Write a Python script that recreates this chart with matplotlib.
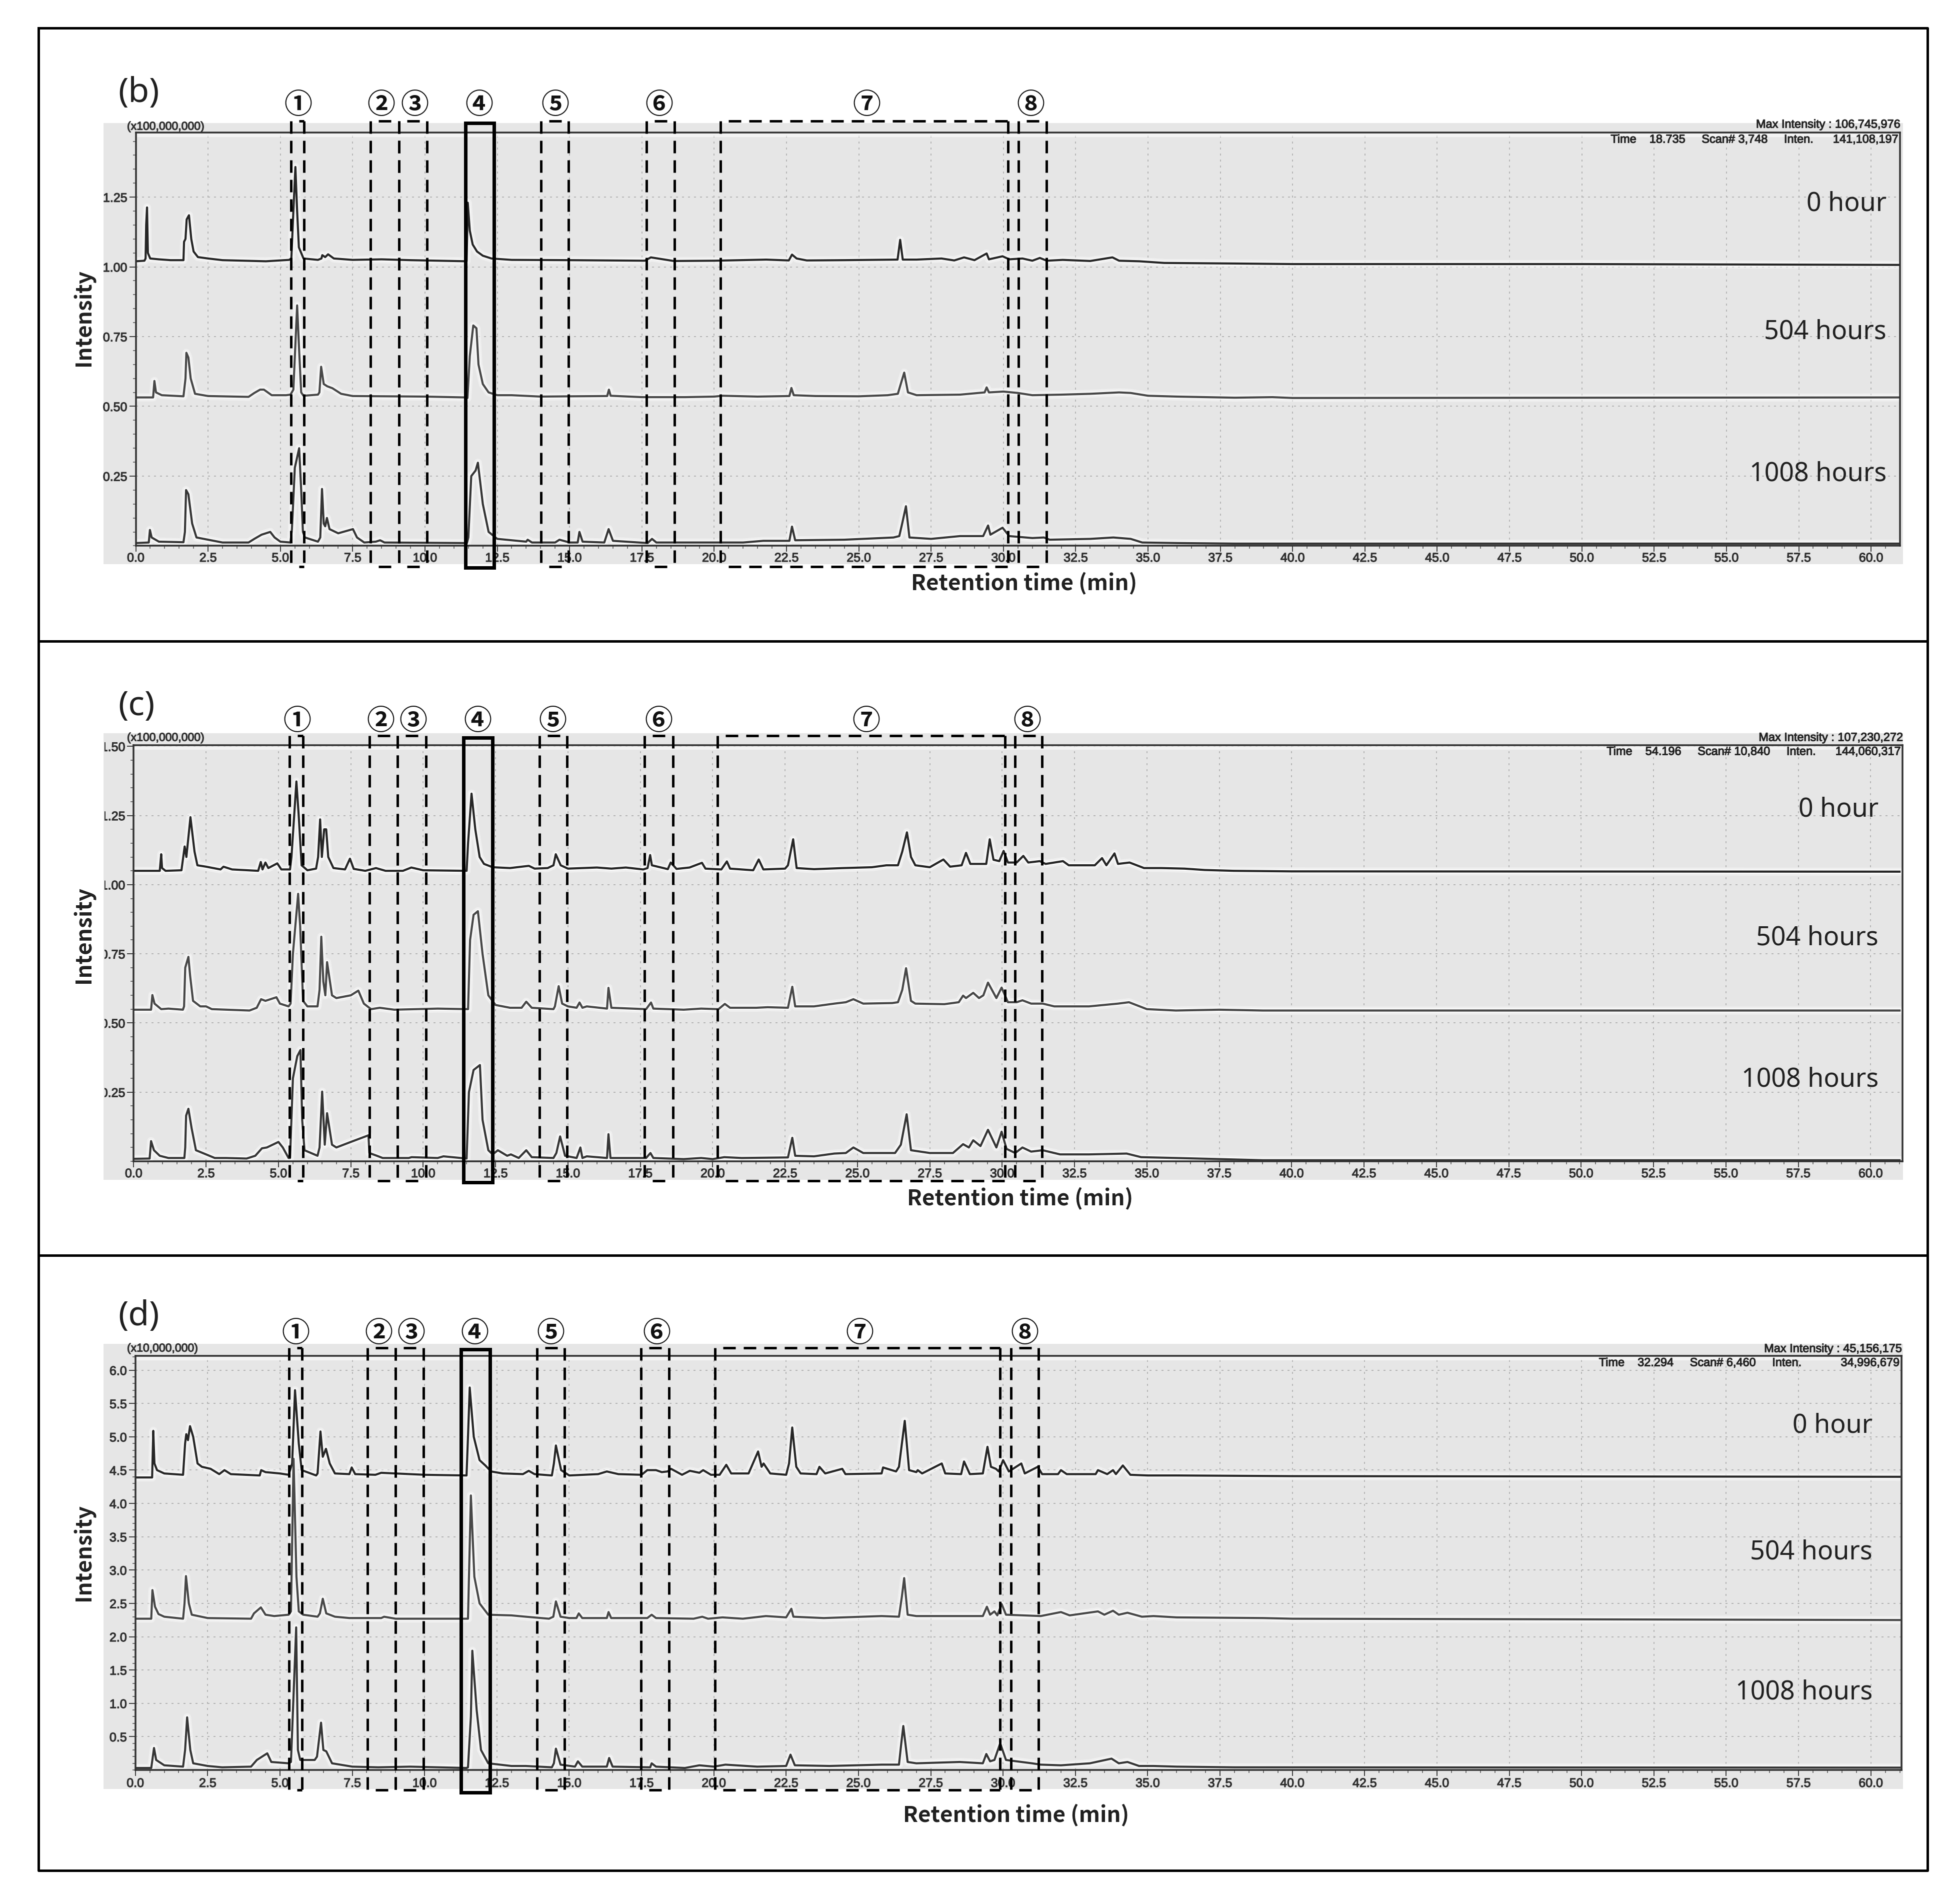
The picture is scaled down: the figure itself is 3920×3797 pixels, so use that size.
import numpy as np
import matplotlib
matplotlib.use('Agg')
import matplotlib.pyplot as plt
import matplotlib.patheffects as pe
from matplotlib.transforms import Bbox, blended_transform_factory

W, H = 3920, 3797
DPI = 100
PX = 72.0 / DPI  # one pixel in points
plt.rcParams['lines.scale_dashes'] = False

# traced chromatograms: (retention time in min, intensity in axis units)
B_0H = [(0,1.02),(.30,1.022),(.34,1.03),(.36,1.15),(.39,1.213),(.42,1.05),(.5,1.03),(.8,1.027),(1.2,1.024),(1.65,1.024),(1.67,1.09),(1.72,1.10),(1.76,1.17),(1.84,1.185),(1.92,1.10),(2.0,1.055),(2.15,1.035),(2.5,1.03),(3,1.024),(4.5,1.02),(5.3,1.025),(5.38,1.03),(5.45,1.2),(5.52,1.358),(5.58,1.2),(5.64,1.07),(5.8,1.03),(6.3,1.025),(6.42,1.03),(6.45,1.042),(6.55,1.035),(6.65,1.045),(6.85,1.03),(7.5,1.025),(8.5,1.027),(9.5,1.024),(11.44,1.02),(11.48,1.23),(11.55,1.13),(11.65,1.08),(11.8,1.055),(12,1.04),(12.3,1.03),(13,1.025),(15,1.024),(17.6,1.022),(17.81,1.034),(18.6,1.021),(20,1.022),(21.8,1.026),(22.58,1.023),(22.69,1.044),(22.85,1.03),(23.2,1.023),(24.5,1.024),(26.34,1.026),(26.43,1.097),(26.52,1.026),(27,1.026),(27.86,1.03),(28.3,1.023),(28.64,1.034),(29,1.024),(29.42,1.048),(29.5,1.027),(29.97,1.038),(30.2,1.027),(30.66,1.03),(31,1.022),(31.26,1.032),(31.5,1.022),(32.05,1.025),(33,1.021),(33.77,1.034),(34,1.022),(34.7,1.02),(35.56,1.014),(38,1.012),(40,1.01),(50,1.01),(61,1.007)]
B_504H = [(0,.532),(.6,.532),(.645,.591),(.7,.55),(.9,.54),(1.65,.536),(1.72,.6),(1.75,.692),(1.82,.675),(1.9,.6),(2.05,.545),(2.5,.537),(3.9,.534),(4.1,.548),(4.3,.56),(4.43,.56),(4.7,.54),(5.2,.54),(5.35,.542),(5.45,.56),(5.58,.862),(5.65,.7),(5.72,.55),(5.8,.538),(6.3,.542),(6.35,.55),(6.41,.642),(6.5,.58),(6.62,.572),(6.8,.565),(7.1,.545),(7.5,.537),(10,.535),(11.4,.532),(11.47,.53),(11.55,.68),(11.67,.79),(11.78,.78),(11.85,.65),(12,.58),(12.2,.55),(12.5,.54),(13,.54),(14,.535),(15,.536),(16.3,.537),(16.36,.56),(16.42,.538),(17.5,.533),(19,.533),(20,.535),(20.3,.538),(21.5,.535),(22.6,.537),(22.67,.566),(22.75,.54),(23.5,.537),(25,.536),(26,.54),(26.35,.545),(26.45,.58),(26.57,.621),(26.7,.55),(27,.54),(28.5,.542),(29.35,.55),(29.42,.568),(29.5,.55),(30,.553),(30.5,.548),(31,.54),(32,.542),(33,.545),(34,.55),(34.4,.548),(35,.538),(36,.535),(38,.531),(39.3,.533),(40,.53),(61,.532)]
B_1008H = [(0,.01),(.45,.012),(.49,.057),(.55,.03),(.8,.015),(1.65,.013),(1.7,.05),(1.74,.2),(1.82,.185),(1.95,.08),(2.1,.03),(2.5,.022),(3,.012),(3.9,.012),(4.1,.025),(4.35,.04),(4.65,.05),(4.8,.03),(5,.015),(5.35,.012),(5.4,.06),(5.5,.28),(5.65,.35),(5.72,.2),(5.78,.05),(5.85,.03),(6.3,.015),(6.38,.03),(6.44,.204),(6.5,.08),(6.55,.07),(6.61,.1),(6.7,.06),(7,.045),(7.51,.06),(7.65,.03),(7.9,.012),(8.3,.015),(8.45,.02),(8.6,.012),(11.45,.01),(11.5,.03),(11.6,.25),(11.75,.27),(11.83,.298),(12,.15),(12.2,.05),(12.5,.025),(13,.02),(13.5,.015),(13.55,.022),(13.7,.012),(14.5,.012),(14.65,.022),(15,.012),(15.28,.012),(15.34,.05),(15.45,.015),(16.2,.012),(16.35,.06),(16.5,.018),(17.7,.01),(17.85,.025),(18,.012),(20,.012),(21,.012),(21.7,.018),(22.6,.018),(22.69,.069),(22.8,.02),(24.5,.022),(26.2,.03),(26.4,.035),(26.5,.08),(26.63,.142),(26.75,.03),(27.5,.025),(28.5,.035),(29.3,.035),(29.47,.073),(29.55,.04),(29.97,.065),(30.2,.035),(31,.028),(31.4,.03),(31.6,.022),(33,.025),(33.8,.03),(34.4,.025),(34.8,.012),(36,.01),(38,.008),(40,.008),(61,.008)]

C_0H = [(0,1.05),(.9,1.05),(.95,1.11),(.98,1.06),(1.1,1.05),(1.65,1.052),(1.76,1.138),(1.82,1.1),(1.96,1.244),(2.1,1.12),(2.2,1.07),(2.5,1.065),(3,1.055),(3.1,1.065),(3.4,1.055),(4.3,1.05),(4.39,1.082),(4.45,1.055),(4.55,1.08),(4.65,1.06),(4.96,1.077),(5.1,1.055),(5.4,1.055),(5.45,1.1),(5.62,1.373),(5.7,1.25),(5.8,1.07),(6,1.052),(6.3,1.058),(6.37,1.1),(6.44,1.236),(6.5,1.1),(6.58,1.2),(6.65,1.2),(6.72,1.1),(6.9,1.06),(7.3,1.055),(7.47,1.094),(7.6,1.057),(8,1.05),(8.37,1.06),(8.7,1.05),(9.3,1.05),(9.59,1.062),(10,1.052),(11.5,1.05),(11.55,1.15),(11.67,1.329),(11.8,1.2),(11.95,1.1),(12.1,1.075),(12.4,1.063),(13,1.06),(13.4,1.065),(13.65,1.068),(13.85,1.058),(14.3,1.06),(14.5,1.07),(14.58,1.11),(14.75,1.07),(15,1.058),(15.5,1.06),(16,1.062),(16.5,1.058),(17,1.062),(17.6,1.055),(17.75,1.06),(17.84,1.107),(17.9,1.07),(18.3,1.06),(18.45,1.056),(18.55,1.08),(18.75,1.057),(19.2,1.062),(19.63,1.079),(19.75,1.058),(20.3,1.055),(20.49,1.084),(20.6,1.058),(21.4,1.052),(21.59,1.091),(21.75,1.055),(22.5,1.058),(22.6,1.07),(22.78,1.164),(22.9,1.06),(23.5,1.056),(24.5,1.06),(25.5,1.063),(26,1.07),(26.4,1.07),(26.55,1.12),(26.71,1.189),(26.85,1.1),(27,1.07),(27.5,1.063),(27.97,1.091),(28.2,1.065),(28.6,1.07),(28.75,1.115),(28.9,1.075),(29.45,1.075),(29.57,1.164),(29.7,1.09),(29.9,1.085),(30.05,1.122),(30.2,1.08),(30.5,1.08),(30.73,1.104),(30.9,1.08),(31.3,1.085),(31.5,1.075),(32.1,1.085),(32.3,1.07),(33.2,1.07),(33.45,1.096),(33.6,1.07),(33.88,1.113),(34,1.075),(34.4,1.08),(34.9,1.06),(35.5,1.06),(36.3,1.058),(37,1.053),(38,1.05),(40,1.048),(61,1.047)]
C_504H = [(0,.548),(.6,.548),(.645,.601),(.72,.57),(.95,.55),(1.2,.552),(1.7,.548),(1.74,.56),(1.78,.7),(1.89,.739),(1.95,.67),(2.05,.58),(2.3,.56),(2.5,.56),(2.7,.55),(4,.545),(4.25,.555),(4.4,.586),(4.55,.58),(4.93,.593),(5.05,.57),(5.35,.56),(5.42,.57),(5.5,.75),(5.68,.967),(5.75,.85),(5.85,.58),(6,.56),(6.35,.56),(6.42,.62),(6.48,.812),(6.55,.65),(6.62,.6),(6.68,.72),(6.85,.6),(7,.59),(7.5,.6),(7.76,.617),(7.95,.57),(8.2,.55),(8.5,.555),(9,.548),(10.5,.552),(11.55,.55),(11.62,.8),(11.74,.891),(11.89,.904),(12.05,.75),(12.25,.6),(12.5,.565),(13,.555),(13.4,.555),(13.56,.577),(13.75,.555),(14.5,.55),(14.55,.56),(14.68,.633),(14.8,.57),(15,.56),(15.3,.555),(15.4,.574),(15.5,.555),(15.65,.56),(16.35,.552),(16.4,.627),(16.5,.555),(17.7,.55),(17.87,.574),(17.95,.552),(19,.548),(19.6,.552),(20.2,.55),(20.42,.569),(20.6,.555),(21.5,.555),(21.9,.557),(22.6,.555),(22.75,.631),(22.85,.56),(23.5,.56),(24.2,.57),(24.6,.575),(24.86,.586),(25.2,.57),(26.2,.572),(26.4,.575),(26.55,.62),(26.68,.698),(26.85,.58),(27,.57),(28,.568),(28.5,.575),(28.65,.599),(28.75,.59),(29,.609),(29.2,.59),(29.35,.6),(29.51,.646),(29.8,.59),(29.98,.628),(30.2,.575),(30.5,.575),(30.7,.582),(31,.57),(31.4,.57),(31.8,.56),(33,.56),(34,.57),(34.38,.575),(35,.55),(36,.545),(37.5,.548),(39,.545),(61,.545)]
C_1008H = [(0,.009),(.55,.01),(.6,.073),(.7,.04),(.9,.02),(1.2,.012),(1.75,.012),(1.78,.05),(1.81,.165),(1.89,.19),(2,.12),(2.15,.04),(2.5,.025),(2.8,.012),(3.2,.012),(3.9,.01),(4.2,.02),(4.43,.047),(4.6,.05),(5,.07),(5.15,.05),(5.35,.012),(5.4,.012),(5.5,.3),(5.65,.38),(5.76,.402),(5.82,.15),(5.9,.04),(6.35,.02),(6.42,.05),(6.51,.252),(6.6,.06),(6.68,.174),(6.85,.06),(7,.05),(7.5,.07),(8.11,.094),(8.14,.03),(8.4,.02),(8.6,.012),(9.5,.012),(9.6,.015),(10.5,.012),(10.7,.018),(11.5,.01),(11.58,.25),(11.74,.33),(11.96,.348),(12.05,.15),(12.25,.04),(12.4,.025),(12.58,.04),(12.9,.02),(13.03,.025),(13.3,.012),(13.56,.04),(13.75,.015),(14.5,.012),(14.6,.03),(14.73,.09),(14.9,.02),(15.3,.012),(15.43,.05),(15.5,.012),(15.65,.018),(16.35,.012),(16.4,.098),(16.47,.012),(17.7,.012),(17.85,.03),(17.95,.012),(19,.008),(19.6,.012),(20,.008),(20.4,.015),(21,.012),(22.6,.014),(22.75,.085),(22.85,.02),(23.5,.018),(24.2,.028),(24.6,.03),(24.86,.05),(25.2,.03),(26.3,.03),(26.5,.06),(26.7,.17),(26.85,.04),(27.5,.03),(28.3,.03),(28.65,.062),(28.85,.05),(29,.076),(29.25,.055),(29.51,.114),(29.8,.05),(29.98,.107),(30.15,.045),(30.45,.03),(30.7,.05),(31,.035),(31.4,.04),(32,.025),(33,.025),(34.3,.028),(34.8,.015),(36,.012),(37.5,.008),(39,.004),(61,.004)]

D_0H = [(0,4.39),(.58,4.39),(.62,5.09),(.66,4.6),(.75,4.5),(1,4.45),(1.65,4.43),(1.72,4.9),(1.76,5.04),(1.82,4.95),(1.89,5.16),(2,5),(2.15,4.6),(2.3,4.55),(2.6,4.52),(2.9,4.44),(3.08,4.5),(3.3,4.44),(4.3,4.42),(4.35,4.5),(4.5,4.47),(5,4.45),(5.3,4.43),(5.42,4.6),(5.52,5.7),(5.65,4.9),(5.75,4.5),(6.25,4.42),(6.3,4.45),(6.4,5.08),(6.48,4.7),(6.59,4.82),(6.72,4.6),(6.9,4.45),(7.4,4.44),(7.48,4.54),(7.6,4.44),(8.3,4.43),(8.5,4.46),(9,4.45),(10,4.43),(11.45,4.42),(11.5,5),(11.56,5.74),(11.7,5),(11.9,4.65),(12.1,4.57),(12.3,4.48),(12.7,4.45),(13.4,4.44),(13.6,4.49),(13.8,4.44),(14.4,4.42),(14.47,4.6),(14.54,4.87),(14.72,4.5),(15,4.42),(16,4.44),(16.3,4.48),(16.7,4.44),(17.5,4.43),(17.7,4.5),(18,4.5),(18.2,4.47),(18.4,4.48),(18.52,4.52),(18.9,4.43),(19.17,4.49),(19.5,4.46),(19.63,4.5),(19.9,4.43),(20.2,4.43),(20.43,4.58),(20.6,4.45),(21.2,4.45),(21.53,4.78),(21.65,4.55),(21.72,4.6),(21.95,4.45),(22.5,4.43),(22.6,4.6),(22.71,5.14),(22.85,4.55),(23,4.45),(23.55,4.44),(23.65,4.55),(23.85,4.45),(24.44,4.52),(24.55,4.44),(25.8,4.45),(25.85,4.54),(26.3,4.48),(26.4,4.55),(26.6,5.24),(26.75,4.5),(27,4.47),(27.05,4.5),(27.2,4.45),(27.88,4.6),(28,4.45),(28.55,4.44),(28.65,4.63),(28.85,4.44),(29.3,4.45),(29.46,4.85),(29.58,4.55),(29.75,4.52),(29.85,4.48),(30,4.65),(30.2,4.48),(30.63,4.6),(30.75,4.45),(31.2,4.55),(31.35,4.44),(31.9,4.44),(32,4.5),(32.2,4.44),(33.2,4.44),(33.28,4.5),(33.6,4.44),(33.8,4.5),(33.9,4.44),(34.14,4.57),(34.4,4.43),(35,4.42),(36,4.42),(40,4.41),(61,4.4)]
D_504H = [(0,2.27),(.55,2.27),(.59,2.7),(.68,2.45),(.8,2.34),(1,2.3),(1.65,2.27),(1.7,2.5),(1.75,2.91),(1.85,2.5),(1.95,2.33),(2.5,2.28),(4,2.27),(4.1,2.35),(4.34,2.44),(4.5,2.33),(4.8,2.31),(5.3,2.33),(5.38,2.38),(5.47,4.67),(5.57,2.9),(5.65,2.38),(5.8,2.33),(6.3,2.3),(6.38,2.35),(6.48,2.57),(6.6,2.35),(6.9,2.3),(7.4,2.28),(8.5,2.28),(8.6,2.3),(9,2.27),(11.5,2.27),(11.6,4.12),(11.72,2.9),(11.9,2.5),(12.2,2.33),(13,2.32),(13.5,2.3),(14.3,2.27),(14.45,2.3),(14.54,2.53),(14.7,2.3),(15,2.28),(15.25,2.28),(15.33,2.35),(15.45,2.28),(16.3,2.28),(16.36,2.37),(16.45,2.28),(17.7,2.28),(17.85,2.33),(18,2.28),(19.3,2.27),(19.6,2.3),(19.8,2.27),(20.3,2.29),(21,2.27),(21.8,2.31),(22.5,2.29),(22.68,2.42),(22.75,2.3),(23.8,2.28),(25.8,2.31),(26.4,2.3),(26.5,2.6),(26.58,2.88),(26.7,2.33),(27,2.31),(29.3,2.31),(29.44,2.45),(29.55,2.33),(29.7,2.38),(29.8,2.32),(29.95,2.49),(30.1,2.33),(31.3,2.31),(32,2.37),(32.3,2.32),(33.28,2.38),(33.5,2.33),(33.8,2.39),(34,2.33),(34.3,2.36),(34.8,2.3),(35.2,2.31),(36,2.29),(39,2.28),(40,2.27),(61,2.25)]
D_1008H = [(0,.03),(.55,.03),(.645,.33),(.72,.15),(1,.07),(1.65,.05),(1.72,.3),(1.79,.79),(1.9,.3),(2,.1),(2.5,.06),(3,.04),(4,.05),(4.2,.15),(4.56,.25),(4.7,.12),(5.3,.1),(5.38,.12),(5.56,2.14),(5.62,.3),(5.7,.15),(6.2,.15),(6.28,.2),(6.42,.71),(6.5,.3),(6.6,.28),(6.8,.1),(7.5,.05),(8.4,.04),(9.5,.05),(11.45,.03),(11.5,.04),(11.6,.8),(11.65,1.79),(11.8,.9),(11.95,.3),(12.2,.1),(13,.06),(13.5,.06),(14.4,.04),(14.47,.1),(14.54,.32),(14.7,.08),(15.2,.05),(15.3,.13),(15.45,.05),(16.3,.05),(16.38,.18),(16.5,.05),(17.8,.04),(17.85,.1),(18,.05),(19,.03),(19.5,.07),(20,.05),(20.4,.08),(21.5,.05),(22.5,.06),(22.65,.23),(22.8,.07),(24,.06),(25.8,.08),(26.4,.08),(26.48,.4),(26.55,.66),(26.7,.12),(27,.1),(28.5,.12),(29.3,.1),(29.42,.24),(29.55,.13),(29.7,.15),(29.9,.4),(30.1,.15),(31,.1),(31.3,.08),(32,.07),(33,.1),(33.75,.17),(34,.1),(34.3,.12),(34.7,.06),(35.2,.06),(36,.05),(38,.04),(61,.035)]

TRACE_LABELS = ['0 hour', '504 hours', '1008 hours']
CIRCLED = ['①', '②', '③', '④', '⑤', '⑥', '⑦', '⑧']

B_YTICKS = [0.25, 0.50, 0.75, 1.00, 1.25]
C_YTICKS = [0.25, 0.50, 0.75, 1.00, 1.25, 1.50]
D_YTICKS = [0.5, 1.0, 1.5, 2.0, 2.5, 3.0, 3.5, 4.0, 4.5, 5.0, 5.5, 6.0]
XTICKS = np.arange(0, 60.1, 2.5)

# retention windows marked on the chromatograms (min)
B_WINDOWS = [(5.36,5.81),(8.12,9.11),(9.11,10.07),(11.40,12.39),(14.01,14.97),(17.66,18.63),(20.22,30.16),(30.53,31.49)]
C_WINDOWS = [(5.39,5.85),(8.14,9.12),(9.12,10.09),(11.40,12.39),(14.02,14.97),(17.64,18.63),(20.16,30.09),(30.44,31.37)]
D_WINDOWS = [(5.32,5.76),(8.02,9.00),(9.00,9.97),(11.26,12.26),(13.88,14.83),(17.49,18.45),(20.04,29.90),(30.27,31.23)]
B_CIRCLES = [5.62,8.48,9.65,11.87,14.50,18.10,25.27,30.94]
C_CIRCLES = [5.64,8.54,9.65,11.89,14.47,18.13,25.30,30.86]
D_CIRCLES = [5.55,8.42,9.54,11.74,14.36,18.02,25.05,30.74]

panels = [
    dict(tag='(b)', traces=[B_0H, B_504H, B_1008H], windows=B_WINDOWS, circles=B_CIRCLES, yticks=B_YTICKS,
         fmt='%.2f', minor=0.05, ylim=(0, 1.482), xlim=61.0, box=(271.5, 3800, 264.7, 1091.4), band=(207, 3806, 246, 1128),
         win_y=(242, 1133), solid_y=(246, 1135), circle_y=211, tag_y=186, ylabel_y=635, xlabel=(2048, 1167), xtick_y=1116,
         hours_x=3773, hours_y=[408, 664, 948], scale='(x100,000,000)', scale_y=253, label_clip=200,
         maxi='Max Intensity : 106,745,976', time='Time    18.735     Scan# 3,748     Inten.      141,108,197', maxi_y=249, time_y=279),
    dict(tag='(c)', traces=[C_0H, C_504H, C_1008H], windows=C_WINDOWS, circles=C_CIRCLES, yticks=C_YTICKS,
         fmt='%.2f', minor=0.05, ylim=(0, 1.505), xlim=61.1, box=(267.4, 3805, 1489.5, 2322), band=(207, 3806, 1466, 2359),
         win_y=(1471, 2361), solid_y=(1475, 2364), circle_y=1443, tag_y=1412, ylabel_y=1869, xlabel=(2040, 2397), xtick_y=2347,
         hours_x=3757, hours_y=[1619, 1876, 2159], scale='(x100,000,000)', scale_y=1475, label_clip=209,
         maxi='Max Intensity : 107,230,272', time='Time    54.196     Scan# 10,840     Inten.      144,060,317', maxi_y=1475, time_y=1503),
    dict(tag='(d)', traces=[D_0H, D_504H, D_1008H], windows=D_WINDOWS, circles=D_CIRCLES, yticks=D_YTICKS,
         fmt='%.1f', minor=0.1, ylim=(0, 6.215), xlim=61.06, box=(270.7, 3803, 2711, 3539), band=(207, 3806, 2687, 3577),
         win_y=(2695, 3579), solid_y=(2698, 3584), circle_y=2667, tag_y=2632, ylabel_y=3104, xlabel=(2032, 3630), xtick_y=3566,
         hours_x=3745, hours_y=[2851, 3104, 3384], scale='(x10,000,000)', scale_y=2696, label_clip=200,
         maxi='Max Intensity : 45,156,175', time='Time    32.294     Scan# 6,460     Inten.            34,996,679', maxi_y=2697, time_y=2725),
]
TRACE_COLORS = ['#262626', '#484848', '#363636']
HEAVY = [pe.withStroke(linewidth=1.2 * PX, foreground='#303030')]

fig = plt.figure(figsize=(W / DPI, H / DPI), dpi=DPI, facecolor='white')

# pixel-coordinate layers behind and in front of the panels
back = fig.add_axes([0, 0, 1, 1], zorder=0)
front = fig.add_axes([0, 0, 1, 1], zorder=5)
for layer in (back, front):
    layer.set_xlim(0, W)
    layer.set_ylim(H, 0)
    layer.axis('off')
    layer.patch.set_alpha(0)

# outer frame and dividers
back.plot([77, 3855, 3855, 77, 77], [56, 56, 3740, 3740, 56], color='black', lw=5 * PX)
for yy in (1282, 2510):
    back.plot([77, 3855], [yy, yy], color='black', lw=5 * PX)

for p in panels:
    left, right, top, bottom = p['box']
    b0, b1, b2, b3 = p['band']
    back.fill_between([b0, b1], b2, b3, color='#e6e6e6', lw=0)

    ax = fig.add_axes([left / W, 1 - bottom / H, (right - left) / W, (bottom - top) / H], zorder=2)
    ax.set_facecolor('#e6e6e6')
    ax.set_xlim(0, p['xlim'])
    ax.set_ylim(*p['ylim'])

    ax.set_xticks(XTICKS)
    ax.set_xticks(np.arange(0, p['xlim'], 0.5), minor=True)
    ax.set_xticklabels(['%.1f' % v for v in XTICKS], fontsize=25 * PX, family='Liberation Sans', color='#303030')
    ax.set_yticks(p['yticks'])
    ax.set_yticks(np.arange(0, p['ylim'][1], p['minor']), minor=True)
    ax.set_yticklabels([p['fmt'] % v for v in p['yticks']], fontsize=25 * PX, family='Liberation Sans', color='#303030')
    for lab in ax.get_xticklabels() + ax.get_yticklabels():
        lab.set_path_effects(HEAVY)
    # the screen capture cuts off the left of some y labels
    for lab in ax.get_yticklabels():
        lab.set_clip_box(Bbox([[p['label_clip'], 0], [W, H]]))
        lab.set_clip_on(True)
    ax.tick_params(axis='x', which='major', length=12 * PX, width=2 * PX, color='#404040',
                   pad=(p['xtick_y'] - bottom - 24) * PX)
    ax.tick_params(axis='y', which='major', length=13 * PX, width=2 * PX, color='#404040', pad=4 * PX)
    ax.tick_params(which='minor', length=6 * PX, width=1.5 * PX, color='#505050')
    ax.grid(True, which='major', color='#b4b4b4', lw=2 * PX, ls=(0, (4 * PX, 8 * PX)))
    ax.set_axisbelow(True)
    for side, spine in ax.spines.items():
        spine.set_linewidth(3.5 * PX)
        spine.set_color('#303030')
    # pale halo under the frame and the traces
    ax.axhline(p['ylim'][1], color='white', lw=18 * PX, alpha=0.55, zorder=1.5)
    for trace, color in zip(p['traces'], TRACE_COLORS):
        tt, ii = np.array(trace).T
        ax.plot(tt, ii, color='white', lw=16 * PX, alpha=0.4, zorder=1.6, solid_joinstyle='round')
        ax.plot(tt, ii, color='white', lw=9 * PX, alpha=0.7, zorder=1.7, solid_joinstyle='round')
        ax.plot(tt, ii, color=color, lw=4.2 * PX, zorder=2, solid_joinstyle='round')
    for label, yy in zip(TRACE_LABELS, p['hours_y']):
        front.text(p['hours_x'], yy, label, ha='right', va='center', fontsize=52 * PX, family='Noto Sans', color='#202020')

    # dashed retention windows, x in minutes and y in figure pixels
    trans = blended_transform_factory(ax.transData, front.transData)
    for i, (w0, w1) in enumerate(p['windows']):
        if i == 3:
            y0, y1 = p['solid_y']
            front.plot([w0, w1, w1, w0, w0], [y0, y0, y1, y1, y0], transform=trans, color='black',
                       lw=7 * PX, solid_joinstyle='miter', scalex=False, scaley=False)
        else:
            y0, y1 = p['win_y']
            ls = (0, (25 * PX, 14 * PX))
            for xx in (w0, w1):
                front.plot([xx, xx], [y0, y1], transform=trans, color='black', lw=5 * PX, ls=ls, scalex=False, scaley=False)
            for yy in (y0, y1):
                front.plot([w0, w1], [yy, yy], transform=trans, color='black', lw=5 * PX, ls=(25 * PX, (25 * PX, 16 * PX)),
                           scalex=False, scaley=False)
        front.text(p['circles'][i], p['circle_y'], CIRCLED[i], transform=trans, ha='center', va='center',
                   fontsize=56 * PX, family=['Noto Sans CJK KR', 'DejaVu Sans'], weight='bold', color='#111111')

    front.text(236, p['tag_y'], p['tag'], ha='left', va='center', fontsize=68 * PX, family='Noto Sans', color='#202020')
    front.text(167, p['ylabel_y'], 'Intensity', rotation=90, ha='center', va='center', fontsize=44 * PX,
               family='Noto Sans CJK KR', weight='bold', color='#202020')
    front.text(p['xlabel'][0], p['xlabel'][1], 'Retention time (min)', ha='center', va='center', fontsize=44 * PX,
               family='Noto Sans CJK KR', weight='bold', color='#202020')
    front.text(254, p['scale_y'], p['scale'], ha='left', va='center', fontsize=23 * PX, family='Liberation Sans',
               color='#303030', path_effects=HEAVY)
    front.text(right, p['maxi_y'], p['maxi'], ha='right', va='center', fontsize=23.5 * PX, family='Liberation Sans',
               color='#202020', path_effects=HEAVY)
    front.text(right - 5, p['time_y'], p['time'], ha='right', va='center', fontsize=23.5 * PX, family='Liberation Sans',
               color='#202020', path_effects=HEAVY)

fig.savefig('out.png', dpi=DPI, facecolor='white')
